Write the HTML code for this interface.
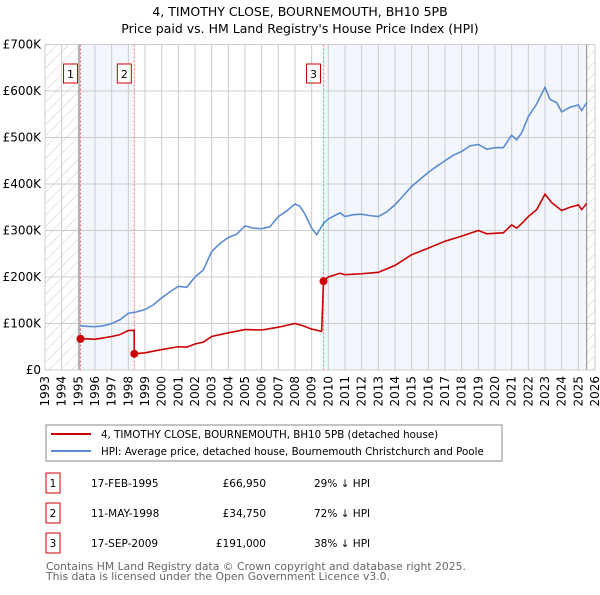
<!DOCTYPE html>
<html><head><meta charset="utf-8"><style>
body{margin:0;background:#fff;font-family:"Liberation Sans","DejaVu Sans",sans-serif;}
svg text{font-family:"DejaVu Sans","Liberation Sans",sans-serif;}
</style></head><body>
<svg id="c" width="600" height="590" xmlns="http://www.w3.org/2000/svg">
<defs><pattern id="h" width="8" height="8" patternUnits="userSpaceOnUse" patternTransform="rotate(45)"><line x1="0" y1="0" x2="0" y2="8" stroke="#ccc" stroke-width="1"/></pattern></defs>
<text x="300" y="16" text-anchor="middle" font-size="12.5">4, TIMOTHY CLOSE, BOURNEMOUTH, BH10 5PB</text>
<text x="300" y="33" text-anchor="middle" font-size="12.5">Price paid vs. HM Land Registry's House Price Index (HPI)</text>
<g id="plot"></g>
<g>
<rect x="46" y="425" width="456" height="36" fill="#fff" stroke="#888"/>
<line x1="51" y1="434" x2="91" y2="434" stroke="#cc0000" stroke-width="2"/>
<text x="101" y="438" font-size="10.3">4, TIMOTHY CLOSE, BOURNEMOUTH, BH10 5PB (detached house)</text>
<line x1="51" y1="451" x2="91" y2="451" stroke="#5b8bd0" stroke-width="2"/>
<text x="101" y="455" font-size="10.3">HPI: Average price, detached house, Bournemouth Christchurch and Poole</text>
</g>
<g id="tbl" font-size="10.5"></g>
<text x="46" y="570" font-size="10.8" fill="#666">Contains HM Land Registry data © Crown copyright and database right 2025.</text>
<text x="46" y="580" font-size="10.8" fill="#666">This data is licensed under the Open Government Licence v3.0.</text>
</svg>
<script>
const hpiYears=[1995.1,1995.5,1996,1996.5,1997,1997.5,1998,1998.5,1999,1999.5,2000,2000.5,2001,2001.5,2002,2002.5,2003,2003.5,2004,2004.5,2005,2005.5,2006,2006.5,2007,2007.5,2008,2008.3,2008.6,2009,2009.3,2009.7,2010,2010.7,2011,2011.5,2012,2012.5,2013,2013.5,2014,2014.5,2015,2015.5,2016,2016.5,2017,2017.5,2018,2018.5,2019,2019.5,2020,2020.5,2021,2021.3,2021.6,2022,2022.5,2023,2023.3,2023.7,2024,2024.5,2025,2025.2,2025.5];
const hpiValues=[95000,94000,93000,95000,100000,108000,122000,125000,130000,140000,155000,168000,180000,178000,200000,215000,255000,272000,285000,292000,310000,305000,304000,308000,330000,342000,357000,352000,335000,305000,291000,315000,325000,338000,330000,334000,335000,332000,330000,340000,355000,375000,395000,410000,425000,438000,450000,462000,470000,482000,485000,475000,478000,478000,505000,495000,510000,545000,572000,608000,582000,575000,555000,565000,570000,558000,575000];
const ppYears=[1995.13,1995.5,1996,1996.5,1997,1997.5,1998,1998.35,1998.36,1999,2000,2001,2001.5,2002,2002.5,2003,2004,2005,2006,2007,2008,2008.5,2009,2009.6,2009.71,2010,2010.7,2011,2012,2013,2014,2015,2016,2017,2018,2019,2019.5,2020.5,2021,2021.3,2021.6,2022,2022.5,2023,2023.4,2024,2024.5,2025,2025.2,2025.5];
const ppValues=[66950,67000,66000,69000,72000,76000,85000,85000,34750,37000,44000,50000,49000,56000,60000,72000,80000,87000,86000,92000,100000,95000,88000,83000,191000,200000,208000,205000,207000,210000,225000,248000,262000,277000,288000,300000,293000,295000,312000,305000,315000,330000,345000,378000,360000,343000,350000,355000,345000,358000];
const saleYears=[1995.13,1998.36,2009.71];
const saleValues=[66950,34750,191000];
const saleDates=["17-FEB-1995","11-MAY-1998","17-SEP-2009"];
const salePrices=["£66,950","£34,750","£191,000"];
const salePct=["29% ↓ HPI","72% ↓ HPI","38% ↓ HPI"];
const yTicks=[0,100000,200000,300000,400000,500000,600000,700000];
const yLabels=["£0","£100K","£200K","£300K","£400K","£500K","£600K","£700K"];
const xTicks=[];for(let y=1993;y<=2026;y++)xTicks.push(y);

const X0=45,X1=595,Y0=370,Y1=44.5;
const sx=v=>X0+(v-1993)/(2026-1993)*(X1-X0);
const sy=v=>Y0-v/700000*(Y0-Y1);
const NS="http://www.w3.org/2000/svg";
const plot=document.getElementById('plot');
function mk(tag,at,parent){const e=document.createElementNS(NS,tag);for(const k in at)e.setAttribute(k,at[k]);(parent||plot).appendChild(e);return e;}
let e;
e=mk('rect',{x:sx(1993),y:Y1,width:sx(1995.05)-sx(1993),height:Y0-Y1,fill:'url(#h)'});


e=mk('rect',{x:sx(2025.5),y:Y1,width:X1-sx(2025.5),height:Y0-Y1,fill:'url(#h)'});


e=mk('rect',{x:sx(saleYears[0]),y:Y1,width:sx(saleYears[1])-sx(saleYears[0]),height:Y0-Y1,fill:'#f3f6fd'});


e=mk('rect',{x:sx(saleYears[2]),y:Y1,width:sx(2025.5)-sx(saleYears[2]),height:Y0-Y1,fill:'#f3f6fd'});


xTicks.forEach(t=>{const x=sx(t);
 e=mk('line',{x1:x,x2:x,y1:Y1,y2:Y0,stroke:'#ccc'});
 
 
 e=mk('text',{x:0,y:0,transform:`translate(${x+4},${Y0+6}) rotate(-90)`,'text-anchor':'end','font-size':'12'});
 e.textContent=t;
 
 
});
yTicks.forEach((t,i)=>{const y=sy(t);
 e=mk('line',{x1:X0,x2:X1,y1:y,y2:y,stroke:'#ccc'});
 
 
 e=mk('text',{x:X0-4,y:y+4,'text-anchor':'end','font-size':'12'});
 e.textContent=yLabels[i];
 
 
});
[1995.05,2025.5].forEach(t=>{e=mk('line',{x1:sx(t),x2:sx(t),y1:Y1,y2:Y0,stroke:'#888'});
 
 });
saleYears.forEach((t,i)=>{const x=sx(t);
 e=mk('line',{x1:x,x2:x,y1:Y1,y2:Y0,stroke:'#f66','stroke-dasharray':'2,2'});
 
 
 e=mk('rect',{x:x-17,y:64,width:14,height:19,fill:'#fff',stroke:'#cc0000'});
 
 
 e=mk('text',{x:x-10,y:78,'text-anchor':'middle','font-size':'11'});
 e.textContent=i+1;
 
 
});
e=mk('polyline',{points:hpiYears.map((t,i)=>sx(t)+','+sy(hpiValues[i])).join(' '),fill:'none',stroke:'#5b8bd0','stroke-width':1.6});


e=mk('polyline',{points:ppYears.map((t,i)=>sx(t)+','+sy(ppValues[i])).join(' '),fill:'none',stroke:'#cc0000','stroke-width':1.6});


saleYears.forEach((t,i)=>{e=mk('circle',{cx:sx(t),cy:sy(saleValues[i]),r:4,fill:'#cc0000'});
 
 });
e=mk('rect',{x:X0,y:Y1,width:X1-X0,height:Y0-Y1,fill:'none',stroke:'#ccc'});


const tbl=document.getElementById('tbl');
saleDates.forEach((d,i)=>{const y=487+i*30;
 e=mk('rect',{x:46,y:y-14,width:14,height:20,fill:'#fff',stroke:'#cc0000'},tbl);
 
 
 e=mk('text',{x:53,y:y,'text-anchor':'middle'},tbl);e.textContent=i+1;
 
 
 e=mk('text',{x:91,y:y},tbl);e.textContent=d;
 
 
 e=mk('text',{x:266,y:y,'text-anchor':'end'},tbl);e.textContent=salePrices[i];
 
 
 e=mk('text',{x:314,y:y},tbl);e.textContent=salePct[i];
 
 
});
</script>
</body></html>
